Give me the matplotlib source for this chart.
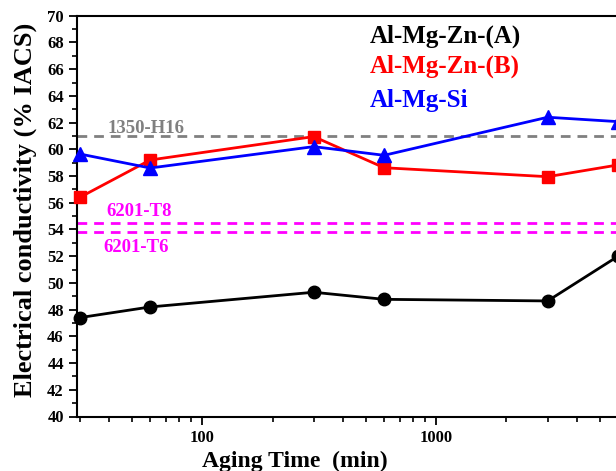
import numpy as np
import matplotlib
matplotlib.use('Agg')
import matplotlib.pyplot as plt
from matplotlib.ticker import MultipleLocator, LogLocator, NullFormatter, FixedLocator

plt.rcParams['font.family'] = ['Liberation Serif', 'DejaVu Serif']
plt.rcParams['font.weight'] = 'bold'

# aging time (min)
time = [30, 60, 300, 600, 3000, 6000]
alloy_a = [47.4, 48.2, 49.3, 48.77, 48.65, 52.0]
alloy_b = [56.4, 59.2, 60.95, 58.62, 57.95, 58.83]
alloy_si = [59.65, 58.6, 60.2, 59.55, 62.4, 62.07]

ref_names = ['1350-H16', '6201-T8', '6201-T6']
ref_values = [61.0, 54.5, 53.8]

fig = plt.figure(figsize=(6.16, 4.71), dpi=100)
ax = fig.add_axes([77/616, 1 - 416.5/471, 593/616, 400.8/471])

ax.plot(time, alloy_a, color='black', lw=2, marker='o', ms=9, clip_on=False, zorder=5)
ax.plot(time, alloy_b, color='red', lw=2, marker='s', ms=9, clip_on=False, zorder=4)
ax.plot(time, alloy_si, color='blue', lw=2, marker='^', ms=10, clip_on=False, zorder=6)

ax.axhline(ref_values[0], color='gray', ls='--', lw=2, dashes=(3.5, 2.5))
ax.axhline(ref_values[1], color='magenta', ls='--', lw=2, dashes=(3.5, 2.5))
ax.axhline(ref_values[2], color='magenta', ls='--', lw=2, dashes=(3.5, 2.5))

ax.text(39.3, 61.2, ref_names[0], color='gray', fontsize=13.5, fontweight='bold')
ax.text(38.8, 55.0, ref_names[1], color='magenta', fontsize=13.5, fontweight='bold')
ax.text(38, 52.3, ref_names[2], color='magenta', fontsize=13.5, fontweight='bold')

ax.text(522, 68.43, 'Al-Mg-Zn-(A)', color='black', fontsize=18, fontweight='bold', va='center')
ax.text(522, 66.18, 'Al-Mg-Zn-(B)', color='red', fontsize=18, fontweight='bold', va='center')
ax.text(522, 63.69, 'Al-Mg-Si', color='blue', fontsize=18, fontweight='bold', va='center')

ax.set_xscale('log')
ax.set_xlim(29.2, 10000)
ax.set_ylim(40, 70)
ax.yaxis.set_major_locator(MultipleLocator(2))
ax.yaxis.set_minor_locator(MultipleLocator(1))
ax.xaxis.set_major_locator(FixedLocator([100, 1000]))
ax.xaxis.set_minor_locator(LogLocator(base=10, subs=np.arange(2, 10)))
ax.xaxis.set_minor_formatter(NullFormatter())
ax.set_xticklabels(['100', '1000'])

ax.tick_params(which='major', direction='out', length=6, width=1.3, labelsize=12)
ax.tick_params(which='minor', direction='out', length=3.5, width=1.2)
for s in ax.spines.values():
    s.set_linewidth(1.5)

ax.set_xlabel('Aging Time  (min)', fontsize=17, fontweight='bold', labelpad=0)
ax.xaxis.set_label_coords((295 - 77) / 593, -0.085)
ax.set_ylabel('Electrical conductivity (% IACS)', fontsize=19, fontweight='bold')
ax.yaxis.set_label_coords(-0.067, 0.515)

fig.savefig('out.png', dpi=100)
